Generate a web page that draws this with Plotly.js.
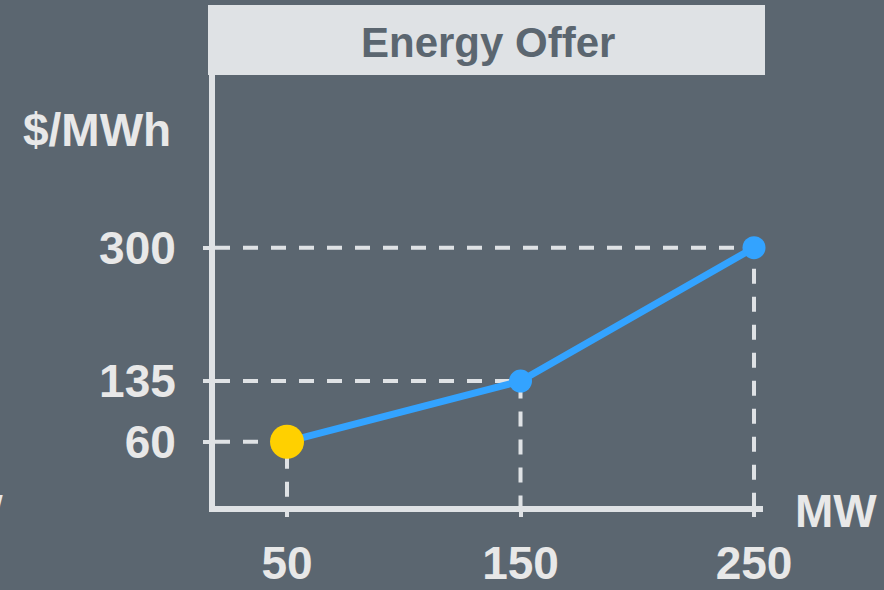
<!DOCTYPE html>
<html>
<head>
<meta charset="utf-8">
<script src="https://cdn.plot.ly/plotly-3.0.1.min.js"></script>
<style>html,body{margin:0;padding:0;background:#5b6670;}#chart{width:884px;height:590px;}</style>
</head>
<body>
<div id="chart"></div>
<script>
// ---- data ----
const mw = [50, 150, 250];
const price = [60, 135, 300];
const xTickLabels = ['50', '150', '250'];
const yTickLabels = ['60', '135', '300'];
const chartTitle = 'Energy Offer';
const yUnit = '$/MWh';
const xUnit = 'MW';
const highlightIndex = 0;

// ---- styles ----
const BG = '#5b6670';
const LIGHT = '#e8e8e8';
const AXIS = '#dfe2e5';
const BLUE = '#33a3ff';
const YELLOW = '#ffd000';
const FONT = 'Liberation Sans, Arial, sans-serif';

const xRange = [19.16, 253.85];
const yRange = [-19.55, 513.7];

const traces = [];
// dashed guide lines (from axis to each point)
mw.forEach((x, i) => {
  traces.push({
    x: [xRange[0], x, x],
    y: [price[i], price[i], yRange[0]],
    mode: 'lines',
    line: {color: AXIS, width: 4, dash: '15px,13px'},
    hoverinfo: 'skip', showlegend: false
  });
});
// offer curve
traces.push({
  x: mw, y: price, mode: 'lines+markers',
  line: {color: BLUE, width: 7},
  marker: {color: BLUE, size: 23},
  cliponaxis: false, showlegend: false
});
// highlighted point
traces.push({
  x: [mw[highlightIndex]], y: [price[highlightIndex]], mode: 'markers',
  marker: {color: YELLOW, size: 34},
  cliponaxis: false, showlegend: false
});

const px = p => (p - 215) / 548;
const py = p => (506 - p) / 431;

const layout = {
  width: 884, height: 590,
  paper_bgcolor: BG, plot_bgcolor: BG,
  margin: {l: 215, r: 121, t: 75, b: 84},
  font: {family: FONT, color: LIGHT},
  xaxis: {
    range: xRange, showgrid: false, zeroline: false,
    showline: true, linecolor: AXIS, linewidth: 6,
    tickmode: 'array', tickvals: mw, ticktext: xTickLabels,
    ticks: 'outside', ticklen: 5, tickwidth: 4, tickcolor: AXIS,
    ticklabelstandoff: 7,
    tickfont: {family: FONT, size: 46, weight: 'bold', color: LIGHT}
  },
  yaxis: {
    range: yRange, showgrid: false, zeroline: false,
    showline: true, linecolor: AXIS, linewidth: 6,
    tickmode: 'array', tickvals: price, ticktext: yTickLabels,
    ticks: 'outside', ticklen: 6, tickwidth: 4, tickcolor: AXIS,
    ticklabelstandoff: 18,
    tickfont: {family: FONT, size: 46, weight: 'bold', color: LIGHT}
  },
  shapes: [{
    type: 'rect', xref: 'paper', yref: 'paper',
    x0: px(208), x1: px(765), y0: py(75), y1: py(5),
    fillcolor: '#dfe2e5', line: {width: 0}, layer: 'above'
  }],
  annotations: [
    {text: chartTitle, xref: 'paper', yref: 'paper', x: px(488), y: py(42),
     xanchor: 'center', yanchor: 'middle', showarrow: false,
     font: {family: FONT, size: 42, weight: 'bold', color: '#5b6670'}},
    {text: yUnit, xref: 'paper', yref: 'paper', x: px(97), y: py(130),
     xanchor: 'center', yanchor: 'middle', showarrow: false,
     font: {family: FONT, size: 46, weight: 'bold', color: LIGHT}},
    {text: xUnit, xref: 'paper', yref: 'paper', x: px(793), y: py(511),
     xanchor: 'left', yanchor: 'middle', showarrow: false,
     font: {family: FONT, size: 46, weight: 'bold', color: LIGHT}},
    {text: xUnit, xref: 'paper', yref: 'paper', x: px(5), y: py(511),
     xanchor: 'right', yanchor: 'middle', showarrow: false,
     font: {family: FONT, size: 46, weight: 'bold', color: LIGHT}}
  ]
};

Plotly.newPlot('chart', traces, layout, {staticPlot: true, displayModeBar: false});
</script>
</body>
</html>
